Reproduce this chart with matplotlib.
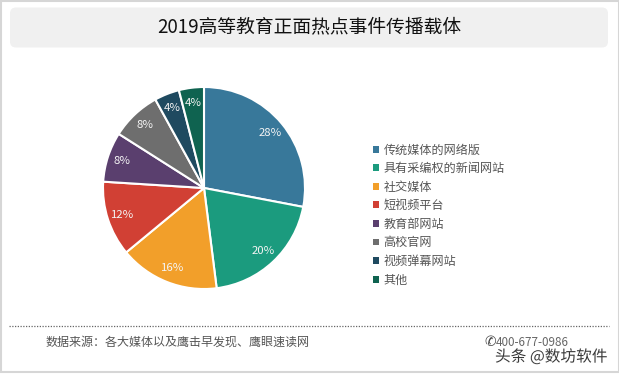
#!/usr/bin/env python
# -*- coding: utf-8 -*-
import matplotlib
matplotlib.use('Agg')
import matplotlib.pyplot as plt
import matplotlib.patheffects as pe
from matplotlib.patches import FancyBboxPatch, Rectangle

plt.rcParams['font.family'] = ['Noto Sans CJK SC', 'DejaVu Sans']

title = '2019高等教育正面热点事件传播载体'
categories = ['传统媒体的网络版', '具有采编权的新闻网站', '社交媒体', '短视频平台',
              '教育部网站', '高校官网', '视频弹幕网站', '其他']
values = [28, 20, 16, 12, 8, 8, 4, 4]
colors = ['#38789a', '#1b9b7e', '#f29f2a', '#d14034',
          '#5a3f6e', '#6e6e6e', '#1f4a60', '#0f6350']
source = '数据来源：各大媒体以及鹰击早发现、鹰眼速读网'
phone = '400-677-0986'
watermark = '头条 @数坊软件'

W, H = 619, 374
fig = plt.figure(figsize=(W / 100, H / 100), dpi=100)

# fond en coordonnees pixels
bg = fig.add_axes([0, 0, 1, 1])
bg.set_xlim(0, W)
bg.set_ylim(H, 0)
bg.axis('off')
bg.add_patch(Rectangle((0.5, 0.5), W - 1, H - 2.5, fill=False, ec='#d6d6d6', lw=1.5))
bg.add_patch(FancyBboxPatch((10, 7.5), 598, 40, boxstyle='round,pad=0,rounding_size=6',
                            fc='#f0f0f0', ec='none'))
bg.text(309.5, 26.5, title, ha='center', va='center', fontsize=13.5, color='#111111')
bg.plot([9, 609], [326, 326], color='#666666', lw=0.9, ls=(0, (1, 1.2)))
bg.text(46, 342.5, source, ha='left', va='center', fontsize=8.65, color='#555555')
bg.text(490, 342, '✆', ha='center', va='center', fontsize=10, color='#444444',
        family='DejaVu Sans')
bg.text(496, 342, phone, ha='left', va='center', fontsize=8.4, color='#666666')
bg.text(495, 357, watermark, ha='left', va='center', fontsize=11.3, color='#3a3a3a',
        path_effects=[pe.withStroke(linewidth=1.5, foreground='white')])

# camembert
cx, cy, r = 204, 188, 101
ax = fig.add_axes([(cx - r) / W, 1 - (cy + r) / H, 2 * r / W, 2 * r / H])
wedges, texts, autotexts = ax.pie(values, colors=colors, startangle=90, counterclock=False,
                                  autopct='%d%%', pctdistance=0.85, radius=1,
                                  wedgeprops={'edgecolor': 'white', 'linewidth': 1.5},
                                  textprops={'color': '#f4f4f4', 'fontsize': 8.2})
ax.set_xlim(-1, 1)
ax.set_ylim(-1, 1)

leg = fig.legend(wedges, categories, loc='upper left', bbox_to_anchor=(373 / W, 1 - 143.5 / H),
                 frameon=False, fontsize=8.7, labelcolor='#555555', handlelength=0.5,
                 handleheight=0.5, handletextpad=0.37, labelspacing=0.46,
                 borderpad=0, borderaxespad=0)
for h in leg.legend_handles:
    h.set_edgecolor('none')

fig.savefig('out.png', dpi=100)
